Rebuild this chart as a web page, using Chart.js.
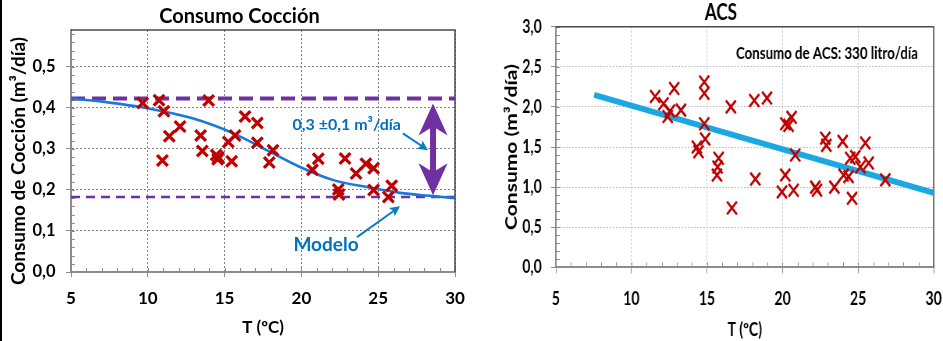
<!DOCTYPE html>
<html><head><meta charset="utf-8">
<script src="https://cdn.jsdelivr.net/npm/chart.js@4.4.1/dist/chart.umd.min.js"></script>
<style>
html,body{margin:0;padding:0;background:#fff;width:943px;height:341px;overflow:hidden;position:relative;}
#left{position:absolute;left:0;top:0;width:470px;height:341px;}
#right{position:absolute;left:470px;top:0;width:473px;height:341px;overflow:hidden;}
#c2{transform:scaleX(0.78053);transform-origin:0 0;}
#edge{position:absolute;left:0;top:0;width:2px;height:341px;background:#000;}
</style></head><body>
<div id="left"><canvas id="c1" width="470" height="341"></canvas></div>
<div id="right"><canvas id="c2" width="606" height="341"></canvas></div>
<div id="edge"></div>
<script>
// ---------- DATA ----------
const xTicks = [5, 10, 15, 20, 25, 30];
const cocYTicks = [0, 0.1, 0.2, 0.3, 0.4, 0.5];
const acsYTicks = [0, 0.5, 1, 1.5, 2, 2.5, 3];

// Consumo Cocción: measured points
const cocTemp = [9.67, 10.73, 11.05, 10.95, 11.40, 12.10, 13.96, 13.44, 13.55, 14.45, 14.55, 14.60,
  15.24, 15.68, 15.46, 16.33, 17.13, 17.13, 18.15, 17.91, 20.72, 21.10, 22.40, 22.45, 22.84,
  23.56, 24.20, 24.70, 24.70, 25.66, 25.88];
const cocCons = [0.412, 0.419, 0.392, 0.272, 0.331, 0.355, 0.418, 0.333, 0.295, 0.285, 0.275, 0.280,
  0.317, 0.333, 0.270, 0.379, 0.363, 0.315, 0.297, 0.267, 0.249, 0.276, 0.201, 0.189, 0.277,
  0.240, 0.264, 0.253, 0.200, 0.183, 0.210];

// Modelo curve
const modelTemp = [5, 7.5, 9.7, 12.96, 15.57, 17.74, 19.91, 22.08, 24.25, 26.42, 28.59, 30];
const modelCons = [0.423, 0.413, 0.401, 0.374, 0.338, 0.297, 0.256, 0.224, 0.207, 0.193, 0.185, 0.180];

// Band limits
const bandTemp = [5, 30];
const bandUpper = [0.423, 0.423];
const bandLower = [0.183, 0.183];

// ACS: measured points
const acsTemp = [11.57, 12.12, 12.40, 12.55, 12.83, 13.28, 14.82, 14.82, 14.82, 14.88, 14.33, 14.44,
  15.77, 15.70, 15.66, 16.58, 16.65, 18.13, 18.97, 18.20, 19.96, 20.18, 20.18, 20.40, 20.60,
  20.84, 20.73, 22.17, 22.28, 22.83, 22.90, 23.43, 23.98, 24.04, 24.37, 24.48, 24.82, 24.60,
  25.15, 25.48, 25.70, 26.80];
const acsCons = [2.13, 2.04, 1.88, 1.95, 2.23, 1.96, 2.31, 2.17, 1.79, 1.60, 1.50, 1.44,
  1.36, 1.25, 1.15, 2.00, 0.74, 2.08, 2.11, 1.10, 0.94, 1.15, 1.79, 1.77, 1.87,
  1.40, 0.96, 1.00, 0.96, 1.61, 1.52, 1.00, 1.57, 1.15, 1.13, 1.36, 1.38, 0.86,
  1.25, 1.55, 1.30, 1.09];

// ACS trend line
const acsFitTemp = [7.54, 30];
const acsFitCons = [2.15, 0.93];

// ---------- HELPERS ----------
const pts = (xs, ys) => xs.map((x, i) => ({x: x, y: ys[i]}));
const comma = v => Number(v).toFixed(1).replace('.', ',');
const F = 'Lato, "Open Sans", sans-serif';

const decor = {
  id: 'decor',
  beforeDatasetsDraw(chart, args, o) {
    const {ctx, chartArea: a, scales: {x, y}} = chart;
    ctx.save();
    ctx.strokeStyle = o.minorColor; ctx.lineWidth = 1;
    ctx.beginPath();
    for (let i = 0; ; i++) {
      const v = y.min + i * o.yMinor; if (v > y.max + 1e-9) break;
      const p = Math.round(y.getPixelForValue(v)) + 0.5;
      ctx.moveTo(a.left, p); ctx.lineTo(a.left + o.minorLen, p);
    }
    for (let i = 0; ; i++) {
      const v = x.min + i * o.xMinor; if (v > x.max + 1e-9) break;
      const p = Math.round(x.getPixelForValue(v)) + 0.5;
      ctx.moveTo(p, a.bottom); ctx.lineTo(p, a.bottom - o.minorLen);
    }
    ctx.stroke();
    ctx.strokeStyle = o.frameColor; ctx.lineWidth = o.frameWidth;
    ctx.beginPath(); ctx.moveTo(a.left, a.top); ctx.lineTo(a.right, a.top); ctx.lineTo(a.right, a.bottom); ctx.stroke();
    ctx.restore();
  }
};

// chart title and (optionally) a rotated axis title, placed relative to the chart area
const heading = {
  id: 'heading',
  afterDraw(chart, args, o) {
    const {ctx, chartArea: a} = chart;
    for (const t of o.items) {
      ctx.save(); ctx.font = t.font; ctx.fillStyle = t.color;
      ctx.textAlign = 'center'; ctx.textBaseline = 'middle';
      const cx = t.rot ? t.x : (a.left + a.right) / 2 + t.dx;
      const cy = t.rot ? (a.top + a.bottom) / 2 + t.dy : t.y;
      ctx.translate(cx, cy);
      if (t.rot) ctx.rotate(-Math.PI / 2);
      ctx.fillText(t.text, 0, 0);
      ctx.restore();
    }
  }
};

function head(ctx, tx, ty, ux, uy, L, W, N) {
  const nx = -uy, ny = ux;
  ctx.beginPath();
  ctx.moveTo(tx, ty);
  ctx.lineTo(tx - ux * L + nx * W, ty - uy * L + ny * W);
  ctx.lineTo(tx - ux * N, ty - uy * N);
  ctx.lineTo(tx - ux * L - nx * W, ty - uy * L - ny * W);
  ctx.closePath(); ctx.fill();
}

const notes = {
  id: 'notes',
  afterDatasetsDraw(chart, args, o) {
    const {ctx, scales: {x, y}} = chart;
    for (const n of o.items) {
      ctx.save();
      if (n.type === 'text') {
        ctx.font = n.font; ctx.fillStyle = n.color; ctx.textAlign = 'center'; ctx.textBaseline = 'middle';
        ctx.fillText(n.text, x.getPixelForValue(n.x), y.getPixelForValue(n.y));
      } else if (n.type === 'arrow') {
        const x0 = x.getPixelForValue(n.x0), y0 = y.getPixelForValue(n.y0);
        const x1 = x.getPixelForValue(n.x1), y1 = y.getPixelForValue(n.y1);
        const d = Math.hypot(x1 - x0, y1 - y0), ux = (x1 - x0) / d, uy = (y1 - y0) / d;
        ctx.strokeStyle = n.color; ctx.fillStyle = n.color; ctx.lineWidth = n.width;
        ctx.beginPath(); ctx.moveTo(x0, y0); ctx.lineTo(x1 - ux * n.head * 0.7, y1 - uy * n.head * 0.7); ctx.stroke();
        head(ctx, x1, y1, ux, uy, n.head, n.headW, n.head * 0.8);
      } else if (n.type === 'double') {
        const px = x.getPixelForValue(n.x), yt = y.getPixelForValue(n.yTop), yb = y.getPixelForValue(n.yBot);
        ctx.strokeStyle = n.color; ctx.fillStyle = n.color; ctx.lineWidth = n.width;
        ctx.beginPath(); ctx.moveTo(px, yt + n.notch); ctx.lineTo(px, yb - n.notch); ctx.stroke();
        head(ctx, px, yt, 0, -1, n.head, n.headW, n.notch);
        head(ctx, px, yb, 0, 1, n.head, n.headW, n.notch);
      }
      ctx.restore();
    }
  }
};

const baseTicks = (size, pad) => ({font: {family: F, size: size, weight: 'bold'}, color: '#000', padding: pad});
const fixX = h => s => { s.height = h; s.paddingLeft = 0; s.paddingRight = 0; };
const fixY = w => s => { s.width = w; };

// ---------- LEFT: Consumo Cocción ----------
new Chart(document.getElementById('c1'), {
  type: 'scatter',
  data: {datasets: [
    {label: 'Consumo', data: pts(cocTemp, cocCons), pointStyle: 'crossRot', pointRadius: 7.6, pointHoverRadius: 7.6,
      pointBorderWidth: 3.2, borderColor: '#C00000', backgroundColor: '#C00000'},
    {type: 'line', label: 'Modelo', data: pts(modelTemp, modelCons), borderColor: '#1A78DC', borderWidth: 2.6,
      pointRadius: 0, cubicInterpolationMode: 'monotone', fill: false},
    {type: 'line', label: 'Max', data: pts(bandTemp, bandUpper), borderColor: '#7030A0', borderWidth: 4,
      borderDash: [14, 7], pointRadius: 0, fill: false},
    {type: 'line', label: 'Min', data: pts(bandTemp, bandLower), borderColor: '#7030A0', borderWidth: 2.5,
      borderDash: [9, 6], pointRadius: 0, fill: false}
  ]},
  options: {
    responsive: false, animation: false, devicePixelRatio: 1,
    layout: {padding: {top: 30, right: 15, left: 0, bottom: 0}},
    plugins: {
      legend: {display: false}, tooltip: {enabled: false},
      heading: {items: [
        {text: 'Consumo Cocción', font: 'bold 20px ' + F, color: '#000', dx: -23.5, y: 16.5},
        {text: 'Consumo de Cocción (m³/día)', font: 'bold 19px ' + F, color: '#000', rot: true, x: 18.6, dy: 10}
      ]},
      decor: {minorColor: '#8c8c8c', minorLen: 4, yMinor: 0.02, xMinor: 1, frameColor: '#4a4a4a', frameWidth: 1.5},
      notes: {items: [
        {type: 'text', text: '0,3 ±0,1 m³/día', x: 22.95, y: 0.358, font: 'bold 16px ' + F, color: '#0070C0'},
        {type: 'text', text: 'Modelo', x: 21.6, y: 0.065, font: 'bold 19px ' + F, color: '#0070C0'},
        {type: 'arrow', x0: 26.61, y0: 0.338, x1: 28.24, y1: 0.297, color: '#0B7BC6', width: 2, head: 10, headW: 5},
        {type: 'arrow', x0: 23.62, y0: 0.085, x1: 26.42, y1: 0.160, color: '#0B7BC6', width: 2, head: 10, headW: 5},
        {type: 'double', x: 28.57, yTop: 0.411, yBot: 0.187, color: '#7030A0', width: 6, head: 32, headW: 14.5, notch: 23}
      ]}
    },
    scales: {
      x: {type: 'linear', min: 5, max: 30,
        afterBuildTicks: s => { s.ticks = xTicks.map(v => ({value: v})); },
        afterFit: fixX(69),
        ticks: Object.assign(baseTicks(17, 11.2), {callback: v => String(v)}),
        grid: {color: '#808080', lineWidth: 1, tickLength: 5, tickColor: '#8c8c8c'},
        border: {color: '#8c8c8c', width: 2, dash: [2, 2]},
        title: {display: true, text: 'T (ºC)', color: '#000', font: {family: F, size: 17, weight: 'bold'}, padding: {top: 0, bottom: 3}}
      },
      y: {type: 'linear', min: 0, max: 0.59,
        afterBuildTicks: s => { s.ticks = cocYTicks.map(v => ({value: v})); },
        afterFit: fixY(71),
        ticks: Object.assign(baseTicks(16.5, 10.5), {callback: v => comma(v)}),
        grid: {color: '#808080', lineWidth: 1, tickLength: 5, tickColor: '#8c8c8c'},
        border: {color: '#8c8c8c', width: 2, dash: [2, 2]},
        title: {display: false}
      }
    }
  },
  plugins: [decor, heading, notes]
});

// ---------- RIGHT: ACS (drawn wide, condensed horizontally) ----------
new Chart(document.getElementById('c2'), {
  type: 'scatter',
  data: {datasets: [
    {label: 'ACS', data: pts(acsTemp, acsCons), pointStyle: 'crossRot', pointRadius: 9, pointHoverRadius: 9,
      pointBorderWidth: 2.6, borderColor: '#C00000', backgroundColor: '#C00000'},
    {type: 'line', label: 'Tendencia', data: pts(acsFitTemp, acsFitCons), borderColor: '#1AA7E2', borderWidth: 6,
      pointRadius: 0, fill: false}
  ]},
  options: {
    responsive: false, animation: false, devicePixelRatio: 1,
    layout: {padding: {top: 26.7, right: 12, left: 0, bottom: 0}},
    plugins: {
      legend: {display: false}, tooltip: {enabled: false},
      heading: {items: [
        {text: 'ACS', font: 'bold 22px ' + F, color: '#000', dx: -30.6, y: 12.5}
      ]},
      decor: {minorColor: '#8c8c8c', minorLen: 5, yMinor: 0.1, xMinor: 1, frameColor: '#4a4a4a', frameWidth: 1.5},
      notes: {items: [
        {type: 'text', text: 'Consumo de ACS: 330 litro/día', x: 22.94, y: 2.668, font: 'bold 17px ' + F, color: '#000'}
      ]}
    },
    scales: {
      x: {type: 'linear', min: 5, max: 30,
        afterBuildTicks: s => { s.ticks = xTicks.map(v => ({value: v})); },
        afterFit: fixX(73.7),
        ticks: Object.assign(baseTicks(18, 15), {callback: v => String(v)}),
        grid: {color: '#BDBDBD', lineWidth: 1, tickLength: 6, tickColor: '#8c8c8c'},
        border: {color: '#8c8c8c', width: 2, dash: [2, 2]},
        title: {display: true, text: 'T (ºC)', color: '#000', font: {family: F, size: 18, weight: 'bold'}, padding: {top: 0, bottom: 0.5}}
      },
      y: {type: 'linear', min: 0, max: 3,
        afterBuildTicks: s => { s.ticks = acsYTicks.map(v => ({value: v})); },
        afterFit: fixY(110),
        ticks: Object.assign(baseTicks(18, 12), {callback: v => comma(v)}),
        grid: {color: '#BDBDBD', lineWidth: 1, tickLength: 6, tickColor: '#8c8c8c'},
        border: {color: '#8c8c8c', width: 2, dash: [2, 2]},
        title: {display: true, text: 'Consumo (m³/día)', color: '#000', font: {family: F, size: 21, weight: 'bold'}, padding: {top: 41, bottom: 0}}
      }
    }
  },
  plugins: [decor, heading, notes]
});
</script>
</body></html>
